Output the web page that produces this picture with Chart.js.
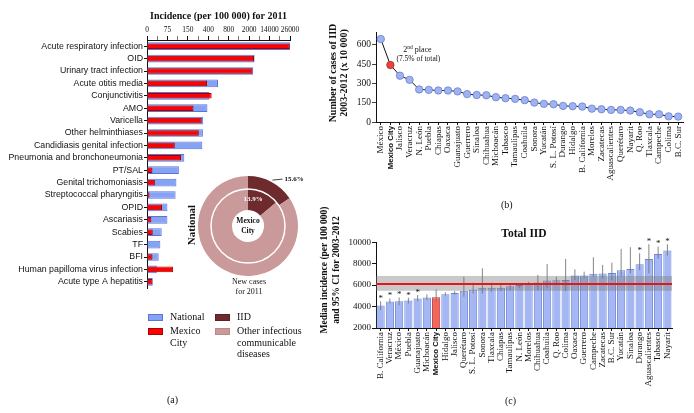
<!DOCTYPE html>
<html>
<head>
<meta charset="utf-8">
<script src="https://cdn.jsdelivr.net/npm/chart.js@4.4.1/dist/chart.umd.min.js"></script>
<style>
  body { margin: 0; width: 694px; height: 413px; background: #fff; position: relative; overflow: hidden; color: #111; font-family: 'Liberation Serif', serif; }
  .pane { position: absolute; }
  .txt { position: absolute; white-space: nowrap; }
  .rot { position: absolute; white-space: nowrap; text-align: center; font-weight: bold; transform: translate(-50%, -50%) rotate(-90deg); }
  .sw { position: absolute; width: 13px; height: 5px; border: 1px solid transparent; }
  .lt { position: absolute; font-size: 10px; line-height: 11.7px; white-space: nowrap; }
</style>
</head>
<body>

<div class="pane" style="left:0;top:0"><canvas id="incidenceChart" width="302" height="300"></canvas></div>
<div class="pane" style="left:178px;top:171px"><canvas id="shareChart" width="140" height="110"></canvas></div>
<div class="pane" style="left:300px;top:0"><canvas id="casesChart" width="394" height="200"></canvas></div>
<div class="pane" style="left:300px;top:225px"><canvas id="medianChart" width="394" height="185"></canvas></div>

<div class="rot" style="left:191px;top:225px;font-size:11px">National</div>
<div class="txt" style="left:249px;top:277px;transform:translateX(-50%);text-align:center;font-size:8px;line-height:10px">New cases<br>for 2011</div>

<div class="sw" style="left:148px;top:314px;background:#86a2f4;border-color:#5b74d6"></div>
<div class="lt" style="left:170px;top:311px">National</div>
<div class="sw" style="left:148px;top:328px;background:#ff0000;border-color:#b00000"></div>
<div class="lt" style="left:170px;top:325px">Mexico<br>City</div>
<div class="sw" style="left:215px;top:314px;background:#6d2b2e;border-color:#5a2225"></div>
<div class="lt" style="left:237px;top:311px">IID</div>
<div class="sw" style="left:215px;top:328px;background:#c99a99;border-color:#b98a89"></div>
<div class="lt" style="left:237px;top:325px">Other infectious<br>communicable<br>diseases</div>
<div class="txt" style="left:167px;top:394px;font-size:10px">(a)</div>

<div class="rot" style="left:338px;top:73px;font-size:10px;line-height:10.5px">Number of cases of IID<br>2003-2012 (x 10 000)</div>
<div class="txt" style="left:501px;top:199px;font-size:10px">(b)</div>

<div class="rot" style="left:330px;top:270px;font-size:9.5px;line-height:11.5px">Median incidence (per 100 000)<br>and 95% CI for 2003-2012</div>
<div class="txt" style="left:505px;top:395px;font-size:10px">(c)</div>

<script>
// (a) incidence for 2011
const diseases = ['Acute respiratory infection', 'OID', 'Urinary tract infection', 'Acute otitis media',
  'Conjunctivitis', 'AMO', 'Varicella', 'Other helminthiases', 'Candidiasis genital infection',
  'Pneumonia and bronchoneumonia', 'PT/SAL', 'Genital trichomoniasis', 'Streptococcal pharyngitis',
  'OPID', 'Ascariasis', 'Scabies', 'TF', 'BFI', 'Human papilloma virus infection', 'Acute type A hepatitis'];
const incidenceNational = [26300, 5200, 4400, 590, 420, 390, 338, 334, 327, 137, 117, 108, 105, 75, 75, 54, 49, 43, 36, 21];
const incidenceMexicoCity = [25900, 4850, 4000, 385, 466, 219, 320, 284, 102, 125, 20, 29, 9, 55, 16, 21, 0, 20, 96, 20];
const incidenceTicks = [0, 75, 150, 400, 800, 2000, 14000, 26000];

// (a) share of new cases
const caseGroups = ['IID', 'Other infectious communicable diseases'];
const nationalShare = [15.6, 84.4];
const mexicoCityShare = [13.9, 86.1];

// (b) cases 2003-2012 (x 10 000)
const statesByCases = ['México', 'Mexico City', 'Jalisco', 'Veracruz', 'N. León', 'Puebla', 'Chiapas', 'Oaxaca',
  'Guanajuato', 'Guerrero', 'Sinaloa', 'Chihuahua', 'Michoacán', 'Tabasco', 'Tamaulipas', 'Coahuila', 'Sonora',
  'Yucatán', 'S. L. Potosí', 'Durango', 'Hidalgo', 'B. California', 'Morelos', 'Zacatecas', 'Aguascalientes',
  'Querétaro', 'Nayarit', 'Q. Roo', 'Tlaxcala', 'Campeche', 'Colima', 'B.C. Sur'];
const casesIID = [645, 443, 360, 328, 253, 250, 245, 245, 238, 217, 210, 208, 193, 185, 180, 170, 151,
  141, 138, 125, 123, 120, 104, 99, 94, 94, 89, 76, 60, 60, 44, 42];

// (c) median incidence 2003-2012
const statesByIncidence = ['B. California', 'Veracruz', 'México', 'Puebla', 'Guanajuato', 'Michoacán', 'Mexico City',
  'Hidalgo', 'Jalisco', 'Querétaro', 'S. L. Potosí', 'Sonora', 'Tlaxcala', 'Chiapas', 'Tamaulipas', 'N. León',
  'Morelos', 'Chihuahua', 'Coahuila', 'Q. Roo', 'Colima', 'Oaxaca', 'Guerrero', 'Campeche', 'Zacatecas',
  'B.C. Sur', 'Yucatán', 'Sinaloa', 'Durango', 'Aguascalientes', 'Tabasco', 'Nayarit'];
const medianIncidence = [4100, 4480, 4500, 4560, 4740, 4840, 4870, 5150, 5270, 5460, 5580, 5740, 5750, 5750, 5900, 6000,
  6170, 6230, 6420, 6450, 6480, 6890, 6890, 7050, 7080, 7120, 7390, 7490, 7950, 8420, 8890, 9220];
const ciLower = [3660, 4280, 4130, 4280, 4500, 4600, 4440, 5000, 5130, 4910, 5220, 5220, 5380, 5440, 5530, 5750,
  6000, 5530, 5690, 6060, 5440, 6470, 6630, 6780, 6630, 6470, 6780, 7090, 7410, 7090, 8440, 8750];
const ciUpper = [4500, 4750, 4850, 4820, 5070, 5130, 5600, 5320, 5440, 6780, 6220, 7560, 6220, 6160, 6160, 6160,
  6310, 6940, 7970, 6780, 8440, 7470, 7250, 8590, 7880, 8090, 9370, 9530, 8970, 9810, 9590, 9810];
const significant = [true, true, true, true, true, false, false, false, false, false, false, false, false, false, false, false,
  false, false, false, false, false, false, false, false, false, false, false, false, true, true, true, true];
const nationalMedian = 6100;
const nationalCI = [5470, 6850];

const serif = 'Liberation Serif';
const sans = 'Liberation Sans';
Chart.defaults.color = '#111';
Chart.defaults.font.family = serif;

// position on the segmented incidence axis (one unit per tick)
function toIdx(v) {
  const n = incidenceTicks.length;
  for (let i = 0; i < n - 1; i++) {
    if (v <= incidenceTicks[i + 1] || i === n - 2) {
      return i + (v - incidenceTicks[i]) / (incidenceTicks[i + 1] - incidenceTicks[i]);
    }
  }
}

new Chart(document.getElementById('incidenceChart'), {
  type: 'bar',
  data: {
    labels: diseases,
    datasets: [
      {
        label: 'Mexico City',
        data: incidenceMexicoCity.map(toIdx),
        backgroundColor: '#ff0000',
        borderColor: '#a80000',
        borderWidth: 1,
        barPercentage: 0.45,
        categoryPercentage: 1,
        grouped: false,
        order: 1,
      },
      {
        label: 'National',
        data: incidenceNational.map(toIdx),
        backgroundColor: '#86a2f4',
        borderColor: '#5b74d6',
        borderWidth: 1,
        barPercentage: 0.62,
        categoryPercentage: 1,
        grouped: false,
        order: 2,
      },
    ],
  },
  options: {
    indexAxis: 'y',
    responsive: false,
    animation: false,
    devicePixelRatio: 1,
    layout: { padding: { top: 0, right: 12, bottom: 12, left: 0 } },
    scales: {
      x: {
        position: 'top',
        min: 0,
        max: incidenceTicks.length - 1,
        ticks: {
          stepSize: 0.5,
          autoSkip: false,
          callback: (v) => (Number.isInteger(v) ? incidenceTicks[v] : ''),
          font: { family: serif, size: 7.4 },
          padding: 1,
          maxRotation: 0,
        },
        grid: {
          drawOnChartArea: false,
          tickLength: 4,
          color: '#111',
          tickColor: (c) => (Number.isInteger(c.tick.value) ? '#111' : '#777'),
        },
        border: { color: '#111' },
        afterFit: (s) => { s.height = 16; },
      },
      y: {
        ticks: { autoSkip: false, font: { family: sans, size: 8.8 }, padding: 1 },
        grid: { drawOnChartArea: false, offset: false, tickLength: 3, color: '#111' },
        border: { color: '#111' },
        afterFit: (s) => { s.width = 147; },
      },
    },
    plugins: {
      legend: { display: false },
      tooltip: { enabled: false },
      title: {
        display: true,
        fullSize: false,
        text: 'Incidence (per 100 000) for 2011',
        font: { family: serif, size: 10, weight: 'bold' },
        color: '#111',
        padding: { top: 10, bottom: 2 },
      },
    },
  },
});

const shareLabels = {
  id: 'shareLabels',
  afterDatasetsDraw(chart) {
    const ctx = chart.ctx;
    const outer = chart.getDatasetMeta(0).data[0];
    const inner = chart.getDatasetMeta(1).data[0];
    ctx.save();
    // white ring between the two rings
    ctx.strokeStyle = '#fff';
    ctx.lineWidth = 1.5;
    ctx.beginPath();
    ctx.arc(inner.x, inner.y, inner.outerRadius, 0, Math.PI * 2);
    ctx.stroke();

    // national share with leader line
    const a = (outer.startAngle + outer.endAngle) / 2;
    const r = outer.outerRadius + 2;
    const x0 = outer.x + Math.cos(a) * r;
    const y0 = outer.y + Math.sin(a) * r;
    ctx.strokeStyle = '#111';
    ctx.lineWidth = 0.8;
    ctx.beginPath();
    ctx.moveTo(x0, y0);
    ctx.lineTo(x0 + 10, y0 - 1);
    ctx.stroke();
    ctx.fillStyle = '#111';
    ctx.font = 'bold 7px "Liberation Serif"';
    ctx.textAlign = 'left';
    ctx.textBaseline = 'middle';
    ctx.fillText(nationalShare[0] + '%', x0 + 12, y0 - 1);

    // Mexico City share inside inner slice
    const b = (inner.startAngle + inner.endAngle) / 2 - 0.25;
    const rm = (inner.innerRadius + inner.outerRadius) / 2 + 1;
    ctx.fillStyle = '#fff';
    ctx.textAlign = 'center';
    ctx.fillText(mexicoCityShare[0] + '%', inner.x + Math.cos(b) * rm, inner.y + Math.sin(b) * rm);

    ctx.fillStyle = '#111';
    ctx.font = 'bold 7.5px "Liberation Serif"';
    ctx.fillText('Mexico', inner.x, inner.y - 5);
    ctx.fillText('City', inner.x, inner.y + 5);
    ctx.restore();
  },
};

new Chart(document.getElementById('shareChart'), {
  type: 'doughnut',
  data: {
    labels: caseGroups,
    datasets: [
      { label: 'National', data: nationalShare, backgroundColor: ['#6d2b2e', '#c99a99'], borderWidth: 0, weight: 13 },
      { label: 'Mexico City', data: mexicoCityShare, backgroundColor: ['#6d2b2e', '#c99a99'], borderWidth: 0, weight: 21 },
    ],
  },
  options: {
    responsive: false,
    animation: false,
    devicePixelRatio: 1,
    cutout: 16,
    layout: { padding: { left: 20, right: 20, top: 5, bottom: 5 } },
    plugins: { legend: { display: false }, tooltip: { enabled: false } },
  },
  plugins: [shareLabels],
});

const boldCity = (font, size) => (c) =>
  c.tick && c.tick.label === 'Mexico City'
    ? { family: sans, size: size - 1.2, weight: 'bold' }
    : { family: font, size: size };

const placeNote = {
  id: 'placeNote',
  afterDatasetsDraw(chart) {
    const i = statesByCases.indexOf('Mexico City');
    const pt = chart.getDatasetMeta(0).data[i];
    const total = casesIID.reduce((s, v) => s + v, 0);
    const ctx = chart.ctx;
    ctx.save();
    ctx.fillStyle = '#111';
    ctx.textBaseline = 'middle';
    const cx = pt.x + 27;
    // "2nd place" with superscript
    ctx.font = '8px "Liberation Serif"';
    const w2 = ctx.measureText(String(i + 1)).width;
    const wp = ctx.measureText(' place').width;
    ctx.font = '5.5px "Liberation Serif"';
    const ws = ctx.measureText('nd').width;
    let x = cx - (w2 + ws + wp) / 2;
    const y = pt.y - 15;
    ctx.textAlign = 'left';
    ctx.font = '8px "Liberation Serif"';
    ctx.fillText(String(i + 1), x, y);
    ctx.font = '5.5px "Liberation Serif"';
    ctx.fillText('nd', x + w2, y - 2.5);
    ctx.font = '8px "Liberation Serif"';
    ctx.fillText(' place', x + w2 + ws, y);
    ctx.font = '7.5px "Liberation Serif"';
    ctx.textAlign = 'center';
    ctx.fillText('(' + (casesIID[i] / total * 100).toFixed(1) + '% of total)', cx + 1, pt.y - 6.5);
    ctx.restore();
  },
};

new Chart(document.getElementById('casesChart'), {
  type: 'line',
  data: {
    labels: statesByCases,
    datasets: [{
      data: casesIID,
      borderColor: '#111',
      borderWidth: 1,
      tension: 0,
      pointRadius: 3.7,
      pointBorderWidth: 0.8,
      pointBackgroundColor: statesByCases.map((s) => (s === 'Mexico City' ? '#e8443f' : '#9fb3f2')),
      pointBorderColor: statesByCases.map((s) => (s === 'Mexico City' ? '#b02a2a' : '#6a7fd0')),
    }],
  },
  options: {
    responsive: false,
    animation: false,
    devicePixelRatio: 1,
    layout: { padding: { top: 32, right: 11, bottom: 0, left: 0 } },
    scales: {
      x: {
        offset: true,
        ticks: { autoSkip: false, minRotation: 90, maxRotation: 90, padding: 1, font: boldCity(serif, 9) },
        grid: { drawOnChartArea: false, tickLength: 3, color: '#111' },
        border: { color: '#111' },
        afterFit: (s) => { s.height = 78; },
      },
      y: {
        min: 0,
        max: 700,
        ticks: {
          stepSize: 75,
          callback: (v) => (v % 150 === 0 ? v : ''),
          font: { family: serif, size: 9.5 },
          padding: 1,
        },
        grid: {
          color: (c) => ((c.tick.value - 75) % 150 === 0 ? '#8a8a8a' : 'rgba(0,0,0,0)'),
          tickColor: (c) => (c.tick.value % 150 === 0 ? '#111' : 'rgba(0,0,0,0)'),
          tickLength: 4,
          lineWidth: 0.8,
        },
        border: { color: '#111', dash: [2, 1.5] },
        afterFit: (s) => { s.width = 76; },
      },
    },
    plugins: { legend: { display: false }, tooltip: { enabled: false } },
  },
  plugins: [placeNote],
});

const ciPlugin = {
  id: 'ciPlugin',
  afterDatasetsDraw(chart) {
    const { ctx, chartArea: a, scales: { x, y } } = chart;
    ctx.save();
    // national 95% CI band
    const top = y.getPixelForValue(nationalCI[1]);
    const bot = y.getPixelForValue(nationalCI[0]);
    ctx.fillStyle = 'rgba(120,120,120,0.4)';
    ctx.fillRect(a.left, top, a.right - a.left, bot - top);
    // state CIs
    ctx.strokeStyle = '#777';
    ctx.lineWidth = 0.9;
    statesByIncidence.forEach((s, i) => {
      const px = x.getPixelForValue(i);
      ctx.beginPath();
      ctx.moveTo(px, y.getPixelForValue(ciLower[i]));
      ctx.lineTo(px, y.getPixelForValue(ciUpper[i]));
      ctx.stroke();
    });
    // national median
    const ym = y.getPixelForValue(nationalMedian);
    ctx.strokeStyle = '#e8141c';
    ctx.lineWidth = 2.2;
    ctx.beginPath();
    ctx.moveTo(a.left, ym);
    ctx.lineTo(a.right, ym);
    ctx.stroke();
    // significance marks
    ctx.fillStyle = '#111';
    ctx.font = '9px "Liberation Serif"';
    ctx.textAlign = 'center';
    ctx.textBaseline = 'bottom';
    statesByIncidence.forEach((s, i) => {
      if (significant[i]) ctx.fillText('*', x.getPixelForValue(i), y.getPixelForValue(ciUpper[i]) + 2);
    });
    ctx.restore();
  },
};

new Chart(document.getElementById('medianChart'), {
  type: 'bar',
  data: {
    labels: statesByIncidence,
    datasets: [{
      data: medianIncidence,
      backgroundColor: statesByIncidence.map((s) => (s === 'Mexico City' ? '#f2665c' : '#a4b7f4')),
      borderColor: statesByIncidence.map((s) => (s === 'Mexico City' ? '#b83a32' : '#6f86d6')),
      borderWidth: 1,
      barPercentage: 0.88,
      categoryPercentage: 1,
    }],
  },
  options: {
    responsive: false,
    animation: false,
    devicePixelRatio: 1,
    layout: { padding: { top: 0, right: 22, bottom: 0, left: 0 } },
    scales: {
      x: {
        ticks: { autoSkip: false, minRotation: 90, maxRotation: 90, padding: 1, font: boldCity(serif, 9) },
        grid: { drawOnChartArea: false, offset: false, tickLength: 3, color: '#111' },
        border: { color: '#111' },
        afterFit: (s) => { s.height = 82; },
      },
      y: {
        min: 2000,
        max: 10000,
        ticks: { stepSize: 2000, callback: (v) => String(v), font: { family: serif, size: 9 }, padding: 1 },
        grid: { drawOnChartArea: false, tickLength: 4, color: '#111' },
        border: { color: '#111' },
        afterFit: (s) => { s.width = 76; },
      },
    },
    plugins: {
      legend: { display: false },
      tooltip: { enabled: false },
      title: {
        display: true,
        fullSize: false,
        text: 'Total IID',
        font: { family: serif, size: 11.5, weight: 'bold', lineHeight: 1.1 },
        color: '#111',
        padding: { top: 3, bottom: 1.5 },
      },
    },
  },
  plugins: [ciPlugin],
});
</script>
</body>
</html>
